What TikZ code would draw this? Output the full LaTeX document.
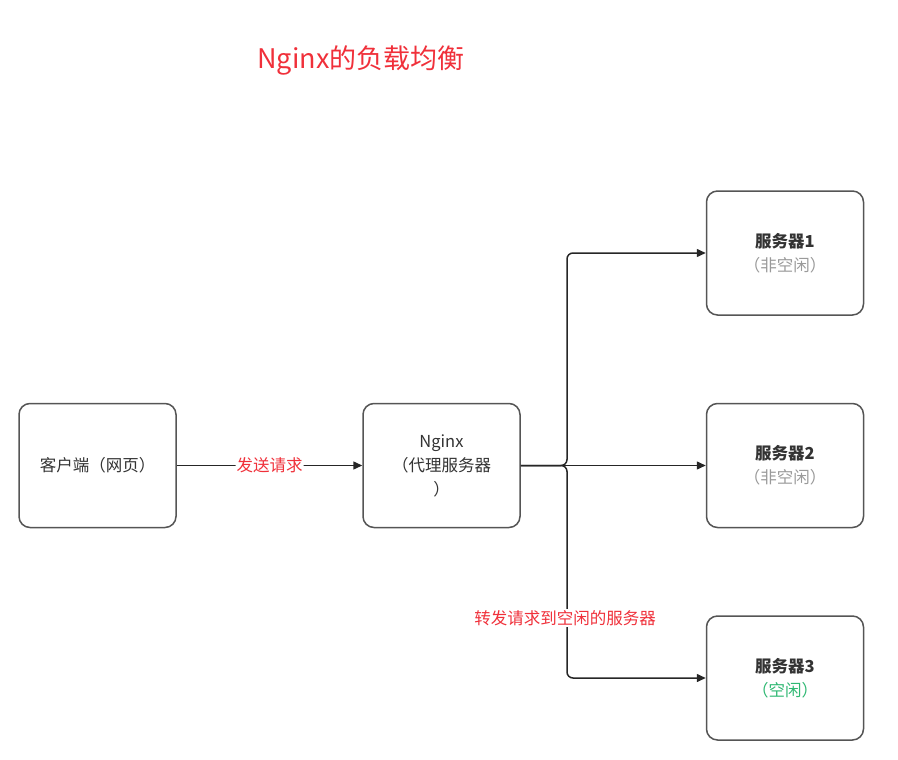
\documentclass[tikz,border=0pt]{standalone}
\usepackage{fontspec}
\setmainfont{Noto Sans CJK SC}
\usetikzlibrary{arrows.meta}
\definecolor{boxline}{HTML}{555555}
\definecolor{lblred}{HTML}{F0303A}
\definecolor{idlegray}{HTML}{9A9A9A}
\definecolor{idlegreen}{HTML}{2EB872}
\begin{document}
\begin{tikzpicture}[x=1pt,y=-1pt,
  boxnode/.style={draw=boxline, line width=1.5pt, rounded corners=11pt, minimum width=157pt, minimum height=124pt, fill=white, align=center, font=\fontsize{16.5}{24}\selectfont, text=black!80},
  conn/.style={draw=black!85, line width=1.5pt, -{Triangle[length=9pt,width=8pt]}, rounded corners=6pt},
  redlbl/.style={text=lblred, fill=white, inner sep=1pt, font=\fontsize{16.5}{20}\selectfont}]
\useasboundingbox (0,0) rectangle (898,760);
\node[text=lblred, font=\fontsize{27}{30}\selectfont] (title) at (361,60) {Nginx的负载均衡};
\node[boxnode] (client) at (97.5,465.5) {客户端（网页）};
\node[boxnode] (nginx) at (441.5,465.5) {Nginx\\（代理服务器\\）};
\node[boxnode] (s1) at (785,253) {\textbf{服务器1}\\{\color{idlegray}（非空闲）}};
\node[boxnode] (s2) at (785,465.5) {\textbf{服务器2}\\{\color{idlegray}（非空闲）}};
\node[boxnode] (s3) at (785,678) {\textbf{服务器3}\\{\color{idlegreen}（空闲）}};
\coordinate (sp) at (567,465.5);
\draw[conn] (client) -- node[redlbl] (l1) {发送请求} (nginx);
\draw[conn] (nginx) -- (s2);
\draw[conn] (nginx.east) -- (sp) |- (s1.west);
\draw[conn] (nginx.east) -- (sp) |- (s3.west);
\node[redlbl] (l2) at (565,618) {转发请求到空闲的服务器};
\end{tikzpicture}
\end{document}
